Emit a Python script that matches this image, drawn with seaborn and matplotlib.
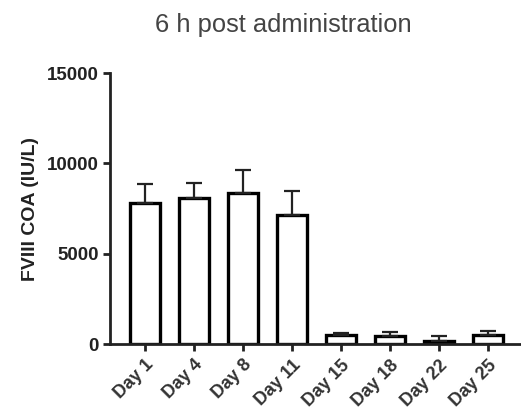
import matplotlib
matplotlib.use("Agg")
import matplotlib.pyplot as plt
import seaborn as sns
import numpy as np
import pandas as pd

days = ["Day 1", "Day 4", "Day 8", "Day 11", "Day 15", "Day 18", "Day 22", "Day 25"]
means = [7800, 8080, 8350, 7150, 500, 440, 170, 500]
sems = [1050, 830, 1280, 1320, 110, 220, 270, 220]
yticks = [0, 5000, 10000, 15000]

sns.set_theme(style="ticks")
plt.rcParams['font.family'] = ['Liberation Sans', 'DejaVu Sans']

df = pd.DataFrame({"day": days, "value": means})

fig = plt.figure(figsize=(5.21, 4.13), dpi=100)
ax = fig.add_axes([0.211, 0.167, 0.789, 0.656])

sns.barplot(data=df, x="day", y="value", order=days, errorbar=None,
            color="white", edgecolor="black", linewidth=2.4, width=0.61, ax=ax)

x = np.arange(len(days))
ax.errorbar(x, means, yerr=[np.zeros(len(sems)), sems], fmt="none",
            ecolor="#222222", elinewidth=1.6, capsize=6, capthick=1.6, zorder=1)

ax.set_xlim(-0.71, 7.67)
ax.set_ylim(0, 15000)
ax.set_yticks(yticks)
ax.set_yticklabels([str(v) for v in yticks], fontsize=13.5, fontweight="bold", color="#222222")
ax.set_xticks(x)
ax.set_xticklabels(days, rotation=45, ha="right", rotation_mode="anchor",
                   fontsize=13, fontweight="bold", color="#333333")
ax.tick_params(axis="both", width=2, length=5, color="#222222")
ax.tick_params(axis="x", pad=4)
ax.tick_params(axis="y", pad=3)
ax.set_xlabel("")
ax.set_ylabel("FVIII COA (IU/L)", fontsize=14, fontweight="bold", color="#222222", labelpad=6)

for s in ["top", "right"]:
    ax.spines[s].set_visible(False)
for s in ["left", "bottom"]:
    ax.spines[s].set_linewidth(2)
    ax.spines[s].set_color("#222222")

fig.text(0.543, 0.94, "6 h post administration", ha="center", va="center",
         fontsize=18.4, color="#444444")

fig.savefig("out.png", dpi=100)
